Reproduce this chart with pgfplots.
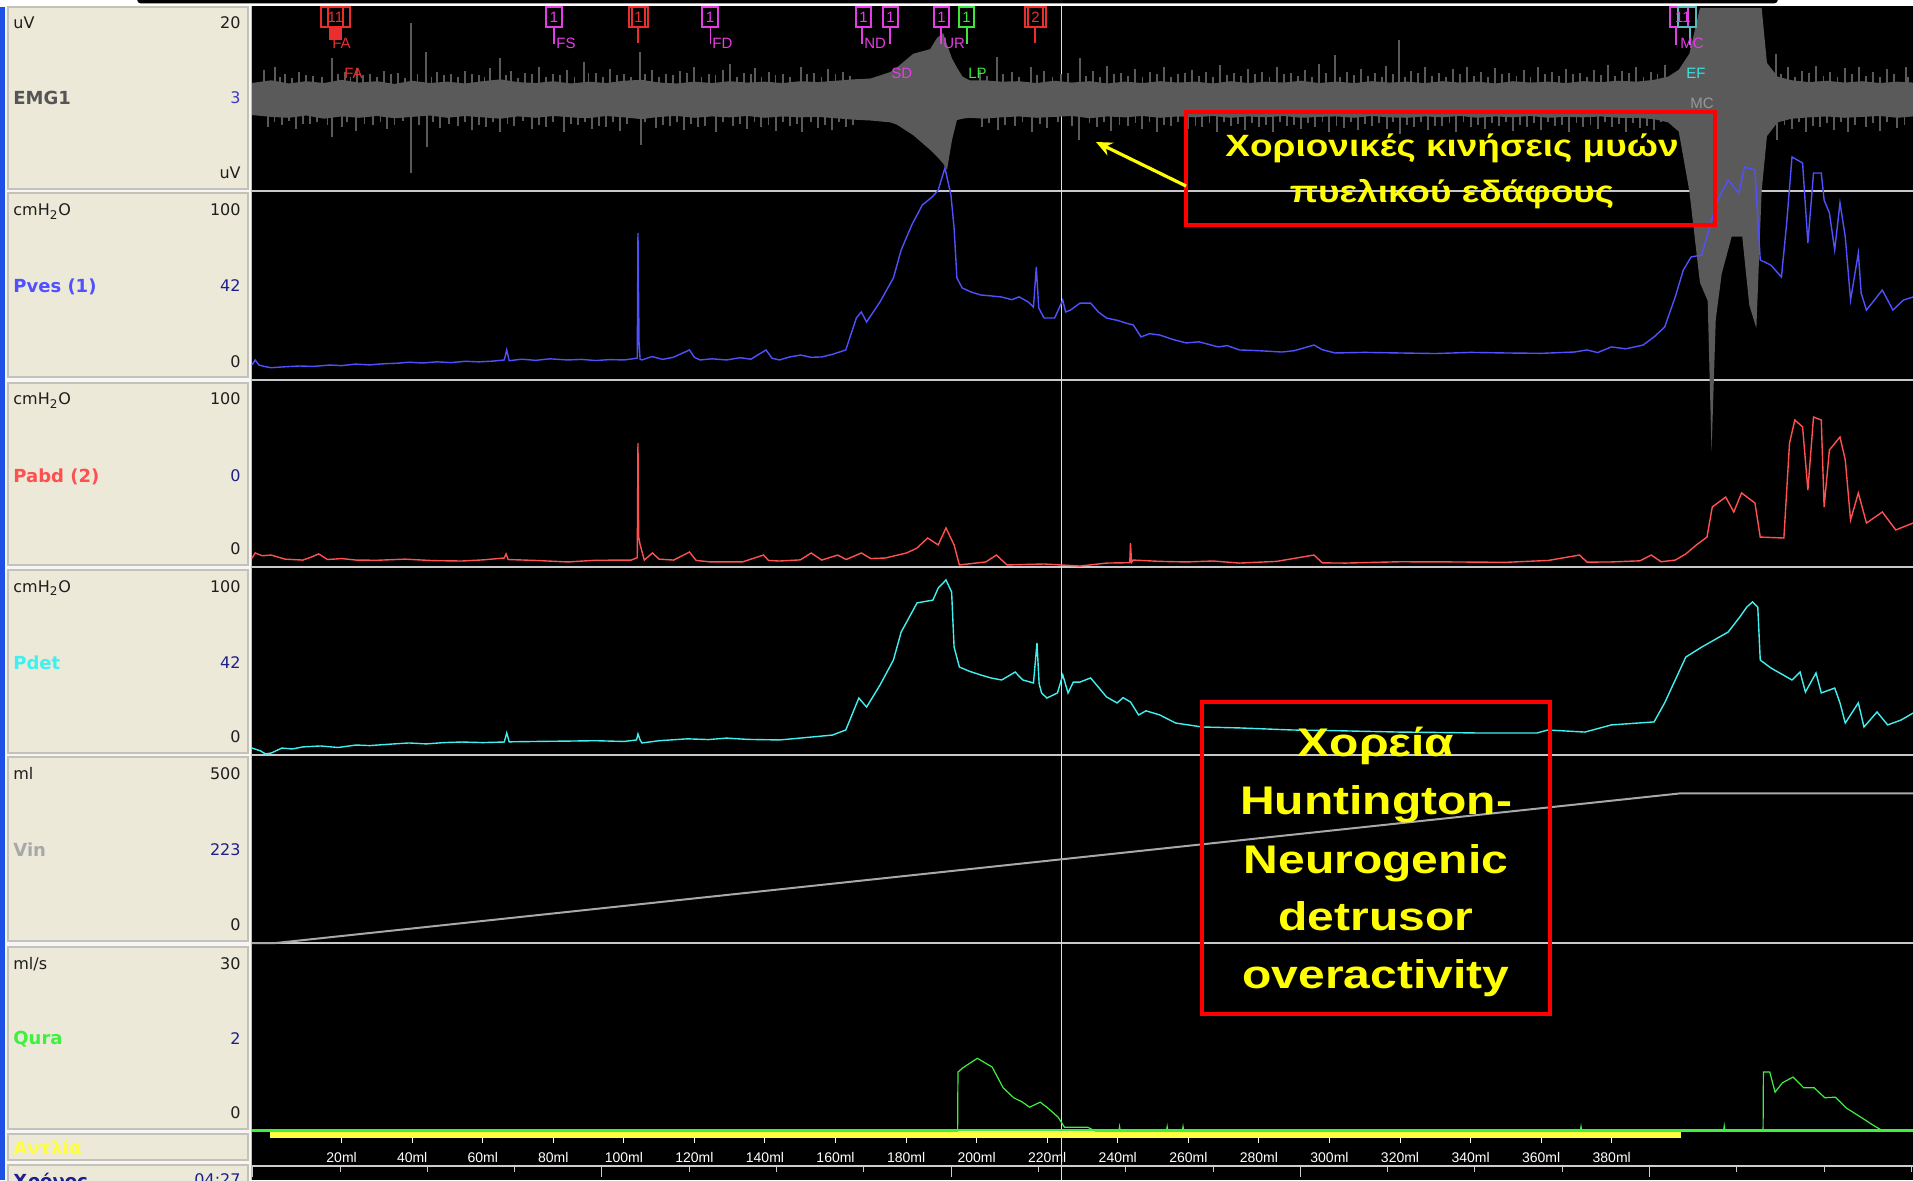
\documentclass[border=0pt]{standalone}
\usepackage{fontspec}
\usepackage{graphicx}
\usepackage{pgfplots}
\usepackage{pgfplotstable}
\usetikzlibrary{arrows.meta}
\pgfplotsset{compat=1.18}
\setmainfont{DejaVu Sans}
\newfontfamily\lib{Liberation Sans}

\definecolor{beige}{RGB}{236,233,216}
\definecolor{boxline}{RGB}{196,194,184}
\definecolor{colbg}{RGB}{246,246,246}
\definecolor{xpblue}{RGB}{30,80,230}
\definecolor{lblk}{RGB}{30,30,30}
\definecolor{emglbl}{RGB}{85,85,85}
\definecolor{numblue}{RGB}{60,60,190}
\definecolor{navy}{RGB}{30,30,140}
\definecolor{pvesc}{RGB}{80,80,255}
\definecolor{pabdc}{RGB}{255,80,80}
\definecolor{pdetc}{RGB}{64,240,240}
\definecolor{vinc}{RGB}{168,168,168}
\definecolor{qurac}{RGB}{64,240,64}
\definecolor{pumpc}{RGB}{255,255,64}
\definecolor{emgc}{RGB}{90,90,90}
\definecolor{sepc}{RGB}{200,200,200}
\definecolor{mred}{RGB}{235,45,45}
\definecolor{mmag}{RGB}{230,60,230}
\definecolor{mgreen}{RGB}{60,230,60}
\definecolor{mcyan}{RGB}{60,225,225}
\definecolor{annred}{RGB}{255,0,0}
\definecolor{annyel}{RGB}{255,255,0}

% ---------------- data (x = infused volume, ml) ----------------
\pgfplotstableread{
x u l
-5.4 3.6 -3.4
0 4.2 -3.8
5 3.5 -4.0
10 4.0 -3.5
15 3.6 -4.2
20 4.3 -3.7
25 3.7 -4.0
30 4.0 -3.6
35 3.4 -4.1
40 4.1 -3.8
45 3.6 -3.5
50 3.9 -4.0
55 3.5 -3.6
60 4.0 -3.9
65 4.4 -4.2
70 3.8 -3.7
75 3.6 -4.0
80 4.0 -3.6
85 3.5 -3.9
90 3.9 -4.1
95 3.6 -3.6
100 4.1 -3.9
105 4.3 -4.3
110 3.7 -3.8
115 3.5 -3.6
120 3.9 -4.0
125 3.6 -3.7
130 4.0 -3.9
135 3.7 -3.6
140 3.9 -4.0
145 3.6 -3.7
150 4.0 -3.9
155 3.8 -3.8
160 4.1 -4.1
165 4.4 -4.4
170 4.6 -4.6
175.5 6.0 -5.0
177.4 7.0 -5.5
182 10.0 -7.8
186.8 11.0 -11.0
188.8 13.5 -12.5
190.5 14.5 -14.0
191.6 12.0 -15.4
193.0 9.0 -8.9
194.4 7.0 -4.5
196 5.0 -4.2
198 4.2 -4.0
202 4.2 -4.2
207 3.9 -3.9
212 4.0 -3.7
217 3.6 -4.0
222 4.1 -3.8
227 3.7 -3.6
232 4.0 -4.1
237 3.5 -3.7
242 3.9 -3.9
247 3.6 -3.6
252 4.0 -4.0
257 3.7 -3.7
262 3.9 -3.9
267 3.5 -3.6
272 4.0 -4.0
277 3.6 -3.7
282 3.9 -3.9
287 3.7 -3.6
292 4.1 -4.0
297 3.6 -3.8
302 3.9 -3.7
307 3.6 -4.0
312 4.0 -3.6
317 3.7 -3.9
322 3.9 -4.0
327 3.6 -3.7
332 4.0 -3.9
337 3.7 -3.6
342 3.9 -4.0
347 3.5 -3.7
352 4.0 -3.9
357 3.7 -3.6
362 3.9 -4.0
367 3.6 -3.8
372 4.0 -3.9
377 3.8 -3.7
382 4.1 -4.0
387 3.9 -4.0
392 4.3 -4.3
396 5.0 -5.0
399 6.5 -7.0
402 10.0 -20.0
405 20.0 -40.0
407.2 20.0 -44.0
408.3 20.0 -77.0
409.5 20.0 -48.0
411.2 20.0 -38.0
414 20.0 -30.0
417 20.0 -30.0
419 20.0 -45.0
421 20.0 -50.0
422.5 20.0 -20.0
424 8.0 -8.0
427 5.0 -5.0
431 4.2 -4.2
436 3.8 -3.9
441 4.1 -3.7
446 3.7 -4.0
451 4.0 -3.8
456 3.6 -3.6
461 3.9 -4.0
465.4 3.7 -3.7
}\emgband

\pgfplotstableread{
x y
-2 6.5
1 7.0
4 5.5
8 6.0
12 5.2
17.2 9.1
21 6.0
24.4 6.8
28 5.5
32 6.2
36 5.8
39.6 16.7
43.9 10.4
47 6.0
51 5.6
55 6.3
59 5.4
62 6.8
64.9 9.1
68 6.2
72 5.8
76 7.0
80 5.6
84 6.4
88.7 8.2
92 5.8
96 6.6
100 5.5
104.6 10.4
108 6.5
112 5.6
116 6.2
120 7.2
124 5.6
128 6.4
130 7.7
134 5.8
137.2 6.9
141 6.0
145 5.5
150.2 7.0
154 5.8
158 6.6
162 6.0
201 6.4
205.8 9.3
210 6.0
215.3 7.0
219 6.2
224 5.6
229.4 9.0
233 6.3
237 7.4
241 5.8
245 6.6
249 6.0
253 7.2
257 5.6
261 6.4
265 6.0
269 7.5
273 5.8
277 6.6
281 6.0
285 7.0
289 5.8
293 6.5
297 7.8
301.6 9.7
305 6.0
309 6.6
313 5.8
316 7.4
319.7 13.0
323 6.2
327 7.0
331 5.8
335 6.6
339 7.2
343 6.0
347 6.8
351 5.8
355 6.4
359 7.0
363 6.0
367 6.6
371 5.8
375 6.4
379 7.6
383 6.2
387 7.0
391 6.0
395 7.5
426.6 10.0
430 7.0
434 6.2
438 7.4
442 6.0
446 6.8
450 7.2
454 6.0
458 6.6
463.3 7.0
-1 -6.0
3 -5.5
7 -6.5
11 -5.4
17.4 -8.2
20 -6.0
24 -6.9
29 -5.6
33 -6.4
39.8 -16.1
44.2 -10.4
48 -6.2
53 -5.8
57 -6.6
61 -6.0
65 -7.1
69 -5.8
74 -6.4
78 -6.0
83 -7.0
87 -5.6
91 -6.4
95 -6.0
99 -6.8
104.8 -9.9
109 -6.2
113 -5.8
117 -6.6
121 -6.0
126 -7.2
131 -5.8
135 -6.4
139 -6.0
143 -6.8
147 -5.8
150.5 -7.0
155 -6.2
159 -6.6
163 -6.0
201.5 -6.0
206 -6.6
211 -5.8
215.6 -7.0
220 -6.2
229 -8.8
234 -6.0
238 -6.8
243 -5.8
247 -6.4
251 -7.0
255 -5.8
260 -6.4
264 -6.0
268 -7.0
272 -5.8
276 -6.6
280 -6.0
284 -7.2
288 -5.8
292 -6.4
296 -6.0
300 -7.0
304 -6.2
308 -6.6
312 -5.8
316.3 -6.4
320 -7.5
324 -6.0
328 -6.6
332 -5.8
336 -7.0
340 -6.0
344 -6.4
348 -5.8
352 -6.8
356 -6.0
360 -6.6
364 -5.8
368 -7.0
372 -6.0
376 -6.4
380 -6.0
384 -7.2
388 -6.2
392 -6.6
426.9 -8.8
431 -6.4
435 -7.0
439 -6.0
443 -6.6
447 -7.2
452 -6.0
456 -6.8
461 -6.2
}\emgspk

\pgfplotstableread{
x y
2.5 5.0
6 4.8
10 5.4
14.5 5.0
19 5.6
22.5 4.9
26 5.3
30 5.0
34 5.5
38 4.8
41.5 5.6
45.5 5.0
49 5.3
53 4.9
57 5.6
60.5 5.0
66.5 5.4
70 4.8
74 5.6
78 5.0
82 5.3
86 4.9
90 5.7
94 5.0
98 5.4
102 4.9
106 5.6
110 5.0
114 5.3
118 5.8
122 5.0
126 5.4
132 5.0
136 5.6
139 4.9
143 5.3
147 5.0
152 5.5
156 5.0
160 5.6
164 5.2
203 5.2
207.5 5.6
212 5.0
217 5.4
221.5 5.0
226 5.8
231 5.2
235 5.0
239 5.6
243 5.2
247 5.0
251 5.5
255 5.0
259 5.8
263 5.2
267 5.0
271 5.4
275 5.2
279 5.6
283 5.0
287 5.5
291 5.2
295 5.0
299 5.7
303 5.0
307 5.4
311 5.2
315 5.0
318 5.5
321.5 5.0
325 5.8
329 5.2
333 5.0
337 5.5
341 5.2
345 5.0
349 5.6
353 5.2
357 5.0
361 5.5
365 5.2
369 5.6
373 5.0
377 5.4
381 5.2
385 5.8
389 5.0
393 5.6
428 5.5
432 5.0
436 5.8
440 5.2
444 5.0
448 5.6
452 5.2
456 5.0
460 5.5
464 5.0
1 -5.0
5 -4.8
9 -5.4
13 -5.0
16 -5.6
21.5 -4.9
26.5 -5.3
31 -5.0
35 -5.5
37.5 -4.8
42 -5.6
46 -5.0
50.5 -5.3
55 -4.9
59 -5.6
63 -5.0
67 -5.4
71.5 -4.8
76 -5.6
80 -5.0
85 -5.3
89 -4.9
93 -5.7
97 -5.0
101 -5.4
106 -4.9
111 -5.6
115 -5.0
119 -5.3
123 -5.8
128 -5.0
133 -5.4
137 -5.0
141 -5.6
145 -4.9
149 -5.3
153 -5.0
157 -5.5
161 -5.0
165 -5.6
203.5 -5.2
208 -5.6
213 -5.0
218 -5.4
223 -5.0
227 -5.8
232 -5.2
236 -5.0
240.5 -5.6
245 -5.2
249 -5.0
253 -5.5
257 -5.0
262 -5.8
266 -5.2
270 -5.0
274 -5.4
278 -5.2
282 -5.6
286 -5.0
290 -5.5
294 -5.2
298 -5.0
302 -5.7
306 -5.0
310 -5.4
314 -5.2
318 -5.0
322 -5.5
326 -5.0
330 -5.8
334 -5.2
338 -5.0
342 -5.5
346 -5.2
350 -5.0
354 -5.6
358 -5.2
362 -5.0
366 -5.5
370 -5.2
374 -5.6
378 -5.0
382 -5.4
386 -5.2
390 -5.8
394 -5.0
429 -5.5
433 -5.0
437 -5.8
441 -5.2
445 -5.0
449 -5.6
454 -5.2
458 -5.0
463 -5.5
}\emgspkb

\pgfplotstableread{
x y
-5.4 7.9
-4.5 10.6
-3.5 8.0
-2 7.2
0 6.5
4 7.0
8 7.4
12 7.2
16.6 7.9
20 7.6
24 8.4
28 8.0
32 8.6
36 8.9
39.1 9.4
43 9.0
47 9.6
51 9.2
55 9.9
59 9.6
63 10.0
66.1 10.6
66.8 15.9
67.5 10.2
71 11.0
75 10.4
79 11.2
84.1 10.6
88 10.9
92 10.3
96 10.8
100 10.6
102.1 11.1
103.8 11.6
104.0 77.8
104.3 20
104.6 11.0
105.1 10.6
108 12.4
111 10.9
114 12.0
118.6 15.9
120 12.0
121.6 10.6
125 11.2
129.1 10.6
133 11.8
136 11.0
140.3 15.9
142 11.5
144.1 10.6
147 12.2
150.1 13.2
153 12.0
156.1 12.2
159 13.5
162.9 15.9
165.9 32.8
167.3 36.0
168.8 30.7
172.6 41.3
176.4 54.0
178.6 68.8
181.6 82.0
184.6 92.6
187.5 97
189.1 100.5
191.0 112.2
192.7 97.9
193.6 80.4
194.4 54.0
195.9 48.7
198.5 46.5
201.1 45.0
204 44.5
207.1 43.9
210 42.5
212 44.0
214.6 41.3
216.1 38.6
216.9 59.8
217.6 38.1
219.1 32.8
222.1 32.8
224.4 42.3
225.2 36
226.6 37.0
229.3 40.7
232.3 40.7
234.5 36
236.8 32.8
240 31.5
242.5 30
244.4 29.1
246.6 22.8
249 24.5
251.9 23.8
255.5 21.5
259.4 19.6
263 20.2
268.5 17.5
271 18.2
274.5 15.9
280 15.5
286.5 14.8
290 15.5
295.6 18.5
298 16
301.6 14.3
310 14.6
319.7 14.3
330 14.0
340 14.6
349.8 14.3
360 14.1
369.4 14.8
373 15.9
376 14.5
379.9 17.5
384 16.5
388.9 18.5
392.0 22.8
395.0 28.0
398.0 43.9
400.3 58.2
402.5 65.1
405.5 66.1
407.8 81.0
410.0 95.2
413.0 105.8
416.1 98.9
417.6 112.7
420.6 111.1
422.1 63.5
425.1 60.8
428.1 54.5
429.6 83.1
431.1 118.0
434.1 114.8
435.6 72.5
437.2 109.5
439.4 109.5
440.2 95.2
441.7 88.4
443.2 68.8
444.7 93.7
446.2 75.7
447.7 42.3
449.9 67.2
450.7 46.0
452.2 37.0
456.7 47.6
459.7 37.0
462.7 42.3
465.4 43.9
}\pves

\pgfplotstableread{
x y
-5.4 4.7
-4.5 7.5
-2.5 6.0
0 6.4
4 4.2
9.0 3.7
11 5.0
13.5 7.0
16 4.0
20 4.5
24.1 3.7
30 3.6
38 4.2
46 3.4
54.1 3.2
60 3.8
66.1 4.8
66.6 7.0
67.2 4.0
75 3.5
84.1 2.7
92 3.6
102.1 3.7
103.8 5.0
104.0 66.3
104.2 16.0
104.6 12
105.8 3.7
108.1 7.5
110 4.2
114.1 3.7
118.6 8.0
120.5 3.5
124.6 2.7
133.6 2.7
139.6 6.4
141 3.5
144.1 3.2
150 3.8
153.1 7.5
156.1 3.7
160.6 6.4
163 4.0
167.3 7.5
170 4.5
174.1 4.8
180.1 7.5
183 10
186.1 15.5
189.1 11.8
191.3 20.9
193.6 11.8
195.1 1.1
202.6 2.7
205.6 6.4
208.6 1.1
219.1 1.6
229.3 0.5
236.8 2.1
243.4 2.3
243.6 12.8
243.9 2.5
244.4 3.7
252 3.0
259.4 2.7
267 3.2
274.5 2.1
285 3.0
295.6 6.4
298 2.2
304.6 2.1
320 2.8
334.7 2.7
350 2.5
362 3.5
370.9 6.4
373 2.6
379.9 2.7
388 3.3
391.2 6.4
394 2.8
398.0 3.7
401 7
404.0 11.8
407.0 16.0
408.5 32.1
412.3 37.4
414.6 29.4
416.8 39.6
420.6 34.2
422.1 16.0
428.8 15.5
430.4 66.3
431.9 78.6
434.1 74.9
435.6 41.2
437.2 80.2
439.4 78.6
440.2 32.1
441.7 62.6
444.7 69.5
446.2 57.2
447.7 25.1
449.9 39.6
452.2 23.5
456.7 29.4
460.5 19.8
465.4 23.5
}\pabd

\pgfplotstableread{
x y
-5.4 3.7
-3 2.2
-1.5 0.5
0.1 1.1
3.1 3.7
6 3.2
9.0 4.3
14 4.8
19 4.0
24.1 5.3
28 5.0
34 5.8
39.1 6.4
44 5.9
49 6.6
54.1 6.9
60 6.6
66.1 6.9
66.8 11.7
67.5 7.0
75 7.2
84.1 7.4
92 7.6
100 7.2
103.6 8.0
104.0 11.2
104.6 8
105.1 6.4
110 7.6
118 8.6
124 8.2
129.1 9.0
135 8.3
144.1 8.0
150 9.0
159.1 10.6
162.9 13.3
166.6 30.3
168.8 25.5
172.6 37.2
176.4 50.5
178.6 65.4
183.1 80.9
187.6 82.4
189.1 88.8
191.3 93.1
192.9 86.7
193.6 57.4
195.1 46.8
198 44.5
201.1 42.6
204 41.0
207.1 39.9
210.9 44.1
213.1 39.9
216.1 38.3
217.1 59.6
217.7 38
218.4 33.0
219.9 30.3
222.9 33.0
224.4 42.6
225.9 33.0
227.4 38.8
229.3 38.8
232.3 41.0
236.8 30.9
239.8 27.7
241.5 30.5
243.6 28.2
245.9 21.3
248 23.5
251.9 21.3
256.4 17.0
263.9 14.9
274.5 14.4
289.5 13.3
300 13.0
319.7 12.2
330 12.0
342.3 11.7
358.8 11.7
361.9 13.3
372.4 12.2
379.9 16.0
392.0 17.6
395.0 27.7
398.0 39.9
401.0 52.1
405.5 57.4
413.0 65.4
416.1 72.9
418.3 78.7
419.9 81.4
421.4 78.7
422.1 50.5
425.1 46.3
431.1 39.9
433.4 44.1
434.9 33.5
437.9 43.6
439.4 33.0
443.2 35.6
444.7 27.7
446.2 17.0
449.9 27.7
451.5 14.9
455.2 22.9
458.2 16.0
462.0 18.6
465.4 22.3
}\pdet

\pgfplotstableread{
x y
-5.4 0
1.4 0
399.5 398
465.4 398
}\vin

\pgfplotstableread{
x y
-5.4 0
194.6 0
194.7 9.4
195.9 10.0
198 10.8
200.2 11.6
202 11.0
204.4 10.2
207.5 6.9
210.5 5.3
213 4.6
215.0 3.8
218.0 4.6
220.1 3.7
223.1 2.2
224.9 0.6
231.5 0.6
233.6 0
240.3 0
240.5 0.7
240.7 0
253.8 0
254.0 0.7
254.2 0
258.3 0
258.5 0.7
258.7 0
371.1 0
371.3 0.7
371.5 0
411.7 0
411.9 0.8
412.1 0
422.9 0
423.0 9.4
424.8 9.4
426.3 6.2
428.4 7.7
431.4 8.6
434.4 6.9
437.4 6.9
440.4 5.3
443.4 5.4
446.4 3.7
450.9 2.1
453.9 1.0
456.9 0
465.4 0
}\qura

\pgfplotsset{panel/.style={scale only axis, width=830.5pt, xmin=-5.4, xmax=465.4,
  hide axis, clip=false, anchor=south west}}

\begin{document}
\begin{tikzpicture}
\useasboundingbox (0,0) rectangle (956.5pt,590pt);
\clip (0,0) rectangle (956.5pt,590pt);
% ---------- background, pixel coordinates ----------
\begin{scope}[x=0.5pt,y=-0.5pt,yshift=590pt]
\fill[white] (0,0) rectangle (1913,1180);
\fill[black] (252,6) rectangle (1913,1180);
\fill[black, rounded corners=2pt] (137,-4) rectangle (1778,3.5);
\fill[colbg] (0,6) rectangle (251,1180);
\fill[xpblue] (0,7) rectangle (5,1180);
\foreach \a/\b in {7/189,193/377,383/565,570/753,757/941,947/1129,1134/1160,1165/1195}
  {\filldraw[fill=beige, draw=boxline, line width=0.6pt] (8,\a) rectangle (248,\b);}
\draw[white!75!black, line width=0.5pt] (251.5,6) -- (251.5,1180);
\foreach \yy in {191,380,567,755,943}
  {\draw[sepc, line width=1pt] (252,\yy) -- (1913,\yy);}
\draw[white!88!black, line width=0.5pt] (1061,6) -- (1061,1180);
% left labels
\tikzset{lt/.style={anchor=base west, inner sep=0pt, font=\fontsize{8}{9.6}\selectfont, text=lblk},
         rt/.style={anchor=base east, inner sep=0pt, font=\fontsize{8}{9.6}\selectfont, text=lblk},
         bl/.style={anchor=base west, inner sep=0pt, font=\bfseries\fontsize{9}{10.8}\selectfont}}
\node[lt] at (13,28.8) {uV};        \node[rt] at (241,28.8) {20};
\node[bl, text=emglbl] at (13,104.6) {EMG1}; \node[rt, text=numblue] at (241,103.8) {3};
\node[rt] at (241,178.8) {uV};
\node[lt] at (13,215.8) {cmH\textsubscript{2}O}; \node[rt] at (241,215.8) {100};
\node[bl, text=pvesc] at (13,292.6) {Pves (1)}; \node[rt, text=navy] at (241,291.8) {42};
\node[rt] at (241,367.5) {0};
\node[lt] at (13,404.8) {cmH\textsubscript{2}O}; \node[rt] at (241,404.8) {100};
\node[bl, text=pabdc] at (13,482.3) {Pabd (2)}; \node[rt, text=navy] at (241,481.5) {0};
\node[rt] at (241,554.8) {0};
\node[lt] at (13,592.5) {cmH\textsubscript{2}O}; \node[rt] at (241,592.5) {100};
\node[bl, text=pdetc] at (13,669.3) {Pdet}; \node[rt, text=navy] at (241,668.5) {42};
\node[rt] at (241,742.5) {0};
\node[lt] at (13,779.8) {ml}; \node[rt] at (241,779.8) {500};
\node[bl, text=vinc] at (13,856.6) {Vin}; \node[rt, text=navy] at (241,855.8) {223};
\node[rt] at (241,930.8) {0};
\node[lt] at (13,969.1) {ml/s}; \node[rt] at (241,969.1) {30};
\node[bl, text=qurac] at (13,1044.9) {Qura}; \node[rt, text=navy] at (241,1044.1) {2};
\node[rt] at (241,1118.5) {0};
\node[bl, text=pumpc] at (13,1154.9) {Αντλία};
\node[bl, text=navy] at (13,1187) {Χρόνος}; \node[rt, text=navy] at (241,1185) {04:27};
\end{scope}

% ---------- EMG ----------
\begin{axis}[panel, height=91.5pt, at={(126pt,494.5pt)}, ymin=-20, ymax=20]
\addplot[fill=emgc, draw=none] table[x=x,y=u] {\emgband} \closedcycle;
\addplot[fill=emgc, draw=none] table[x=x,y=l] {\emgband} \closedcycle;
\addplot[emgc, line width=2pt, mark=none] coordinates {(-5.4,0) (465.4,0)};
\addplot[ycomb, emgc, line width=0.9pt, mark=none] table[x=x,y=y] {\emgspkb};
\addplot[ycomb, emgc, line width=1pt, mark=none] table[x=x,y=y] {\emgspk};
\end{axis}
% ---------- Pves ----------
\begin{axis}[panel, height=94.5pt, at={(126pt,400pt)}, ymin=0, ymax=100]
\addplot[pvesc, line width=0.7pt, mark=none] table[x=x,y=y] {\pves};
\end{axis}
% ---------- Pabd ----------
\begin{axis}[panel, height=93.5pt, at={(126pt,306.5pt)}, ymin=0, ymax=100]
\addplot[pabdc, line width=0.7pt, mark=none] table[x=x,y=y] {\pabd};
\end{axis}
% ---------- Pdet ----------
\begin{axis}[panel, height=94pt, at={(126pt,212.5pt)}, ymin=0, ymax=100]
\addplot[pdetc, line width=0.7pt, mark=none] table[x=x,y=y] {\pdet};
\end{axis}
% ---------- Vin ----------
\begin{axis}[panel, height=94pt, at={(126pt,118.5pt)}, ymin=0, ymax=500]
\addplot[vinc, line width=1pt, mark=none] table[x=x,y=y] {\vin};
\end{axis}
% ---------- Qura + pump ----------
\begin{axis}[panel, height=94pt, at={(126pt,24.5pt)}, ymin=0, ymax=30]
\addplot[pumpc, line width=3pt, mark=none] coordinates {(-0.3,-0.64) (399.7,-0.64)};
\addplot[qurac, line width=1.4pt, mark=none] coordinates {(-5.4,0.08) (465.4,0.08)};
\addplot[white, line width=0.7pt, mark=none] coordinates {(194.7,-0.05) (233.6,-0.05)};
\addplot[vinc, line width=0.7pt, mark=none] coordinates {(423.0,-0.05) (456.9,-0.05)};
\addplot[qurac, line width=0.6pt, mark=none] table[x=x,y=y] {\qura};
\end{axis}
% ---------- volume ticks ----------
\begin{axis}[scale only axis, width=830.5pt, height=2.5pt, at={(126pt,18.5pt)}, anchor=south west,
  xmin=-5.4, xmax=465.4, ymin=0, ymax=1, axis x line*=bottom, axis y line=none,
  x axis line style={draw=none},
  xtick={20,40,60,80,100,120,140,160,180,200,220,240,260,280,300,320,340,360,380},
  xticklabels={20ml,40ml,60ml,80ml,100ml,120ml,140ml,160ml,180ml,200ml,220ml,240ml,260ml,280ml,300ml,320ml,340ml,360ml,380ml},
  major tick length=2.5pt, tick align=inside, tick style={white, line width=0.5pt},
  xticklabel style={anchor=center, yshift=-7pt, text=white, inner sep=0pt, font=\lib\fontsize{7}{8}\selectfont}]
\addplot[draw=none, mark=none] coordinates {(0,0.5) (1,0.5)};
\end{axis}
% ---------- time axis ----------
\begin{axis}[scale only axis, width=830.5pt, height=7pt, at={(126pt,0pt)}, anchor=south west,
  xmin=-5.4, xmax=465.4, ymin=0, ymax=1, axis x line*=top, axis y line=none,
  x axis line style={white!80!black, line width=0.6pt},
  xtick={19.56,44.30,69.05,118.54,143.28,168.03,217.52,242.26,267.01,316.50,341.24,365.99,415.48,440.22,464.97},
  xticklabels={},
  extra x ticks={-5.19,93.79,192.77,291.75,390.73}, extra x tick labels={},
  extra x tick style={major tick length=5.5pt},
  major tick length=3pt, tick align=inside, tick style={white!80!black, line width=0.5pt}]
\addplot[draw=none, mark=none] coordinates {(0,0.5) (1,0.5)};
\end{axis}

% ---------- markers and annotations ----------
\begin{scope}[x=0.5pt,y=-0.5pt,yshift=590pt]
\tikzset{mk/.style={inner sep=0pt, font=\lib\fontsize{7.5}{9}\selectfont},
         ml/.style={anchor=west, inner sep=0pt, font=\lib\fontsize{7.5}{9}\selectfont}}
% red 11 / FA
\draw[mred, line width=0.6pt] (321,7) rectangle (343,27) (328,7) rectangle (350,27);
\fill[mred] (329,27) rectangle (342,40);
\node[mk, text=mred] at (335.5,17) {11};
\node[ml, text=mred] at (332,43) {FA};
\node[ml, text=mred] at (344,73) {FA};
% FS
\draw[mmag, line width=0.6pt] (546,7) rectangle (562,27) (554,27) -- (554,44);
\node[mk, text=mmag] at (554,17) {1};
\node[ml, text=mmag] at (556,43) {FS};
% red 1
\draw[mred, line width=0.6pt] (629,7) rectangle (645,27) (632,7) rectangle (648,27);
\draw[mred, line width=1.4pt] (638,27) -- (638,43);
\node[mk, text=mred] at (638.5,17) {1};
% FD
\draw[mmag, line width=0.6pt] (702,7) rectangle (718,27) (710.5,27) -- (710.5,44);
\node[mk, text=mmag] at (710,17) {1};
\node[ml, text=mmag] at (712,43) {FD};
% ND
\draw[mmag, line width=0.6pt] (856,7) rectangle (871,27) (862,27) -- (862,44);
\node[mk, text=mmag] at (863.5,17) {1};
\node[ml, text=mmag] at (864,43) {ND};
\draw[mmag, line width=0.6pt] (883,7) rectangle (898,27) (890,27) -- (890,44);
\node[mk, text=mmag] at (890.5,17) {1};
\node[ml, text=mmag] at (891,73) {SD};
% UR
\draw[mmag, line width=0.6pt] (934,7) rectangle (949,27) (941,27) -- (941,44);
\node[mk, text=mmag] at (941.5,17) {1};
\node[ml, text=mmag] at (943,43) {UR};
% LP
\draw[mgreen, line width=0.6pt] (959,7) rectangle (974,27) (967,27) -- (967,44);
\node[mk, text=mgreen] at (966.5,17) {1};
\node[ml, text=mgreen] at (968,73) {LP};
% red 2
\draw[mred, line width=0.6pt] (1025,7) rectangle (1043,27) (1028,7) rectangle (1046,27);
\draw[mred, line width=1.4pt] (1035,27) -- (1035,43);
\node[mk, text=mred] at (1035.5,17) {2};
% MC / EF / MC
\draw[mmag, line width=0.6pt] (1670,7) rectangle (1688,27) (1676,27) -- (1676,45);
\draw[mcyan!60!gray, line width=0.6pt] (1678,7) rectangle (1696,27) (1690,27) -- (1690,45);
\node[mk, text=mmag] at (1683,17) {11};
\node[ml, text=mmag] at (1680,43) {MC};
\node[ml, text=mcyan] at (1686,73) {EF};
\node[ml, text=white!60!black] at (1690,103) {MC};

% annotation 1
\draw[annred, line width=1.8pt] (1186,112) rectangle (1715,225);
\draw[annyel, line width=1.6pt, -{Stealth[length=8pt,width=7pt]}] (1186,186) -- (1096,142);
\node[anchor=base, inner sep=0pt, text=annyel, font=\lib\bfseries\fontsize{15.4}{18}\selectfont] at (1452,157) {\scalebox{1.2}[1]{Χοριονικές κινήσεις μυών}};
\node[anchor=base, inner sep=0pt, text=annyel, font=\lib\bfseries\fontsize{15.4}{18}\selectfont] at (1452,202.7) {\scalebox{1.2}[1]{πυελικού εδάφους}};
% annotation 2
\draw[annred, line width=1.8pt] (1202,702) rectangle (1550,1014);
\tikzset{an2/.style={anchor=base, inner sep=0pt, text=annyel, font=\lib\bfseries\fontsize{20}{24}\selectfont}}
\node[an2] at (1376,756.7) {\scalebox{1.2}[1]{Χορεία}};
\node[an2] at (1376,815) {\scalebox{1.2}[1]{Huntington-}};
\node[an2] at (1376,873) {\scalebox{1.2}[1]{Neurogenic}};
\node[an2] at (1376,930) {\scalebox{1.2}[1]{detrusor}};
\node[an2] at (1376,988) {\scalebox{1.2}[1]{overactivity}};
\end{scope}
\end{tikzpicture}
\end{document}
